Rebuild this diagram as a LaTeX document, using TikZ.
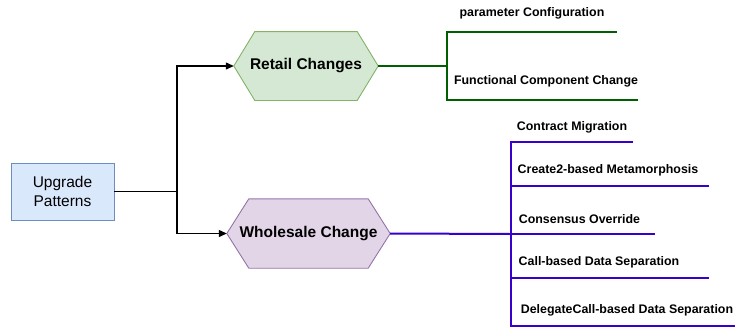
\documentclass[tikz,border=0pt]{standalone}
\usepackage{fontspec}
\setmainfont{Liberation Sans}
\usetikzlibrary{calc,arrows.meta}
\definecolor{bluefill}{HTML}{DAE8FC}
\definecolor{blueline}{HTML}{6C8EBF}
\definecolor{greenfill}{HTML}{D5E8D4}
\definecolor{greenline}{HTML}{82B366}
\definecolor{purplefill}{HTML}{E1D5E7}
\definecolor{purpleline}{HTML}{9673A6}
\definecolor{gbranch}{HTML}{005F00}
\definecolor{vbranch}{HTML}{3700CC}
\tikzset{
  rootbox/.style={draw=blueline, fill=bluefill, line width=0.9pt, minimum width=103pt, minimum height=57pt, align=center, font=\fontsize{15.5}{19}\selectfont, inner sep=0pt},
  hexnode/.style={inner sep=0pt, font=\bfseries\fontsize{15.5}{19}\selectfont},
  leaf/.style={font=\bfseries\fontsize{12.4}{15}\selectfont, inner sep=0pt},
  arr/.style={draw=black, line width=1.2pt, -{Triangle[length=8pt,width=7pt]}},
  gline/.style={draw=gbranch, line width=2pt},
  vline/.style={draw=vbranch, line width=2pt},
}
\begin{document}
\begin{tikzpicture}[x=1pt,y=-1pt]
\useasboundingbox (0,0) rectangle (735,327);

% root
\node[rootbox] (root) at (62.5,191.5) {Upgrade\\Patterns};

% hexagons
\node[hexnode, minimum width=144pt, minimum height=68.5pt] (retail) at (306,66) {Retail Changes};
\node[hexnode, minimum width=163pt, minimum height=69pt] (whole) at (308.5,233.5) {Wholesale Change};

\filldraw[draw=greenline, fill=greenfill, line width=0.9pt]
  (retail.west) -- ($(retail.north west)+(21,0)$) -- ($(retail.north east)+(-21,0)$) -- (retail.east)
  -- ($(retail.south east)+(-21,0)$) -- ($(retail.south west)+(21,0)$) -- cycle;
\filldraw[draw=purpleline, fill=purplefill, line width=0.9pt]
  (whole.west) -- ($(whole.north west)+(22,0)$) -- ($(whole.north east)+(-22,0)$) -- (whole.east)
  -- ($(whole.south east)+(-22,0)$) -- ($(whole.south west)+(22,0)$) -- cycle;
\node[hexnode] at (retail) {Retail Changes};
\node[hexnode] at (whole) {Wholesale Change};

% root connectors
\coordinate (j) at (177,191.5);
\draw[line width=1.2pt] (root.east) -- (j);
\draw[arr] (j) |- (retail.west);
\draw[arr] (j) |- (whole.west);

% retail branch
\coordinate (gj) at (447,66);
\coordinate (g1) at (447,32);
\coordinate (g2) at (447,99.5);
\coordinate (g1e) at (617,32);
\coordinate (g2e) at (638,99.5);
\draw[gline] (retail.east) -- (gj);
\draw[gline] (g1e) -- (g1) -- (g2) -- (g2e);
\node[leaf] (pc) at (532,13) {parameter Configuration};
\node[leaf] (fc) at (546,81) {Functional Component Change};

% wholesale branch
\coordinate (vj) at (511,234);
\coordinate (v1) at (511,142);
\coordinate (v2) at (511,186);
\coordinate (v3) at (511,234);
\coordinate (v4) at (511,277.5);
\coordinate (v5) at (511,325.5);
\coordinate (v1e) at (633,142);
\coordinate (v2e) at (709,186);
\coordinate (v3e) at (655,234);
\coordinate (v4e) at (709,277.5);
\coordinate (v5e) at (735,325.5);
\draw[vline] (whole.east) -- (vj);
\draw[vline] (v1e) -- (v1) -- (v5) -- (v5e);
\draw[vline] (v2) -- (v2e);
\draw[vline] (v3) -- (v3e);
\draw[vline] (v4) -- (v4e);
\node[leaf] (cm) at (572,127) {Contract Migration};
\node[leaf] (c2) at (608,170) {Create2-based Metamorphosis};
\node[leaf] (co) at (579.5,219) {Consensus Override};
\node[leaf] (cb) at (599,262) {Call-based Data Separation};
\node[leaf] (dc) at (627,310) {DelegateCall-based Data Separation};
\end{tikzpicture}
\end{document}
